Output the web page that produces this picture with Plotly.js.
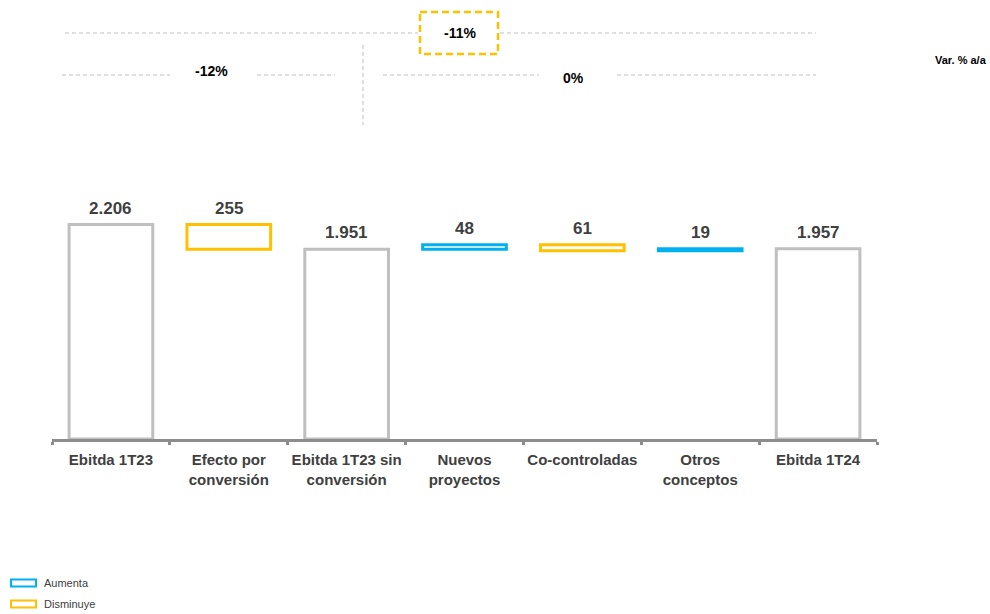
<!DOCTYPE html>
<html>
<head>
<meta charset="utf-8">
<script src="https://cdn.plot.ly/plotly-3.0.1.min.js"></script>
<style>html,body{margin:0;padding:0;background:#fff;}#chart{width:990px;height:614px;}</style>
</head>
<body>
<div id="chart"></div>
<script>
// ---- data ----
var categories = ["Ebitda 1T23", "Efecto por<br>conversión", "Ebitda 1T23 sin<br>conversión", "Nuevos<br>proyectos", "Co-controladas", "Otros<br>conceptos", "Ebitda 1T24"];
var measures = ["absolute", "relative", "total", "relative", "relative", "relative", "total"];
var values = [2206, -255, 1951, 48, -61, 19, 1957];
var varLabels = ["-12%", "-11%", "0%"];
var varTitle = "Var. % a/a";
var legendLabels = ["Aumenta", "Disminuye"];

var BLUE = "#00B0F0", YELLOW = "#FFC000", GRAY = "#BFBFBF", AXIS = "#8C8C8C", TXT = "#404040";
var FONT = "Liberation Sans, Arial, sans-serif";

// layout geometry (pixels)
var W = 990, H = 614, ML = 52, MR = 113, MT = 0, MB = 175;
var PW = W - ML - MR, PH = H - MT - MB;
function px(x) { return (x - ML) / PW; }
function py(y) { return (H - MB - y) / PH; }

// running totals for labels
var tops = [], run = 0;
for (var i = 0; i < values.length; i++) {
  var start, end;
  if (measures[i] === "absolute") { start = 0; end = values[i]; run = end; }
  else if (measures[i] === "total") { start = 0; end = run; }
  else { start = run; end = run + values[i]; run = end; }
  tops.push(Math.max(start, end));
}
function fmt(n) { return String(Math.abs(n)).replace(/\B(?=(\d{3})+(?!\d))/g, "."); }

var annotations = [];
for (var j = 0; j < categories.length; j++) {
  annotations.push({
    x: categories[j], y: tops[j], xref: "x", yref: "y",
    text: fmt(measures[j] === "total" ? tops[j] : values[j]),
    showarrow: false, yanchor: "bottom", yshift: 5,
    font: {family: FONT, size: 17, color: TXT, weight: "bold"}
  });
}
// top variation labels
var varPos = [[211, 71], [460, 33], [573, 78]];
for (var k = 0; k < varLabels.length; k++) {
  annotations.push({
    x: px(varPos[k][0]), y: py(varPos[k][1]), xref: "paper", yref: "paper",
    text: varLabels[k], showarrow: false, xanchor: "center", yanchor: "middle",
    font: {family: FONT, size: 14, color: "#000", weight: "bold"}
  });
}
annotations.push({
  x: px(989), y: py(60), xref: "paper", yref: "paper", text: varTitle,
  showarrow: false, xanchor: "right", yanchor: "middle",
  font: {family: FONT, size: 11, color: "#000", weight: "bold"}
});
// legend texts
var legColors = [BLUE, YELLOW], legY = [583, 604];
for (var m = 0; m < legendLabels.length; m++) {
  annotations.push({
    x: px(42), y: py(legY[m]), xref: "paper", yref: "paper", text: legendLabels[m],
    showarrow: false, xanchor: "left", yanchor: "middle",
    font: {family: FONT, size: 11, color: TXT}
  });
}

var dashLine = {color: "#C0C0C0", width: 1, dash: "4px,3px"};
function hseg(x0, x1, y) {
  return {type: "line", xref: "paper", yref: "paper", x0: px(x0), x1: px(x1), y0: py(y), y1: py(y), line: dashLine};
}
var shapes = [
  hseg(65, 418, 33), hseg(500, 816, 33),
  hseg(62, 170, 75), hseg(257, 335, 75), hseg(383, 539, 75), hseg(617, 816, 75),
  {type: "line", xref: "paper", yref: "paper", x0: px(363), x1: px(363), y0: py(45), y1: py(125), line: dashLine},
  {type: "rect", xref: "paper", yref: "paper", x0: px(420), x1: px(498), y0: py(12), y1: py(54),
   line: {color: YELLOW, width: 2.5, dash: "7px,4px"}}
];
for (var n = 0; n < legendLabels.length; n++) {
  shapes.push({type: "rect", xref: "paper", yref: "paper", x0: px(11), x1: px(36), y0: py(legY[n] - 3.5), y1: py(legY[n] + 3.5),
    line: {color: legColors[n], width: 2}, fillcolor: "#fff"});
}

var trace = {
  type: "waterfall",
  x: categories, y: values, measure: measures,
  width: 0.71,
  connector: {visible: false},
  increasing: {marker: {color: "#fff", line: {color: BLUE, width: 3}}},
  decreasing: {marker: {color: "#fff", line: {color: YELLOW, width: 3}}},
  totals: {marker: {color: "#fff", line: {color: GRAY, width: 3}}},
  textinfo: "none", hoverinfo: "skip", cliponaxis: false, showlegend: false
};

var layout = {
  width: W, height: H,
  margin: {l: ML, r: MR, t: MT, b: MB, pad: 0},
  paper_bgcolor: "#fff", plot_bgcolor: "#fff",
  font: {family: FONT, color: TXT},
  showlegend: false,
  xaxis: {
    type: "category", range: [-0.5, categories.length - 0.5],
    showline: true, linecolor: AXIS, linewidth: 3,
    ticks: "outside", tickson: "boundaries", ticklen: 3, tickwidth: 3, tickcolor: AXIS,
    tickangle: 0, automargin: false, ticklabelstandoff: 5,
    showgrid: false, zeroline: false, fixedrange: true,
    tickfont: {family: FONT, size: 15, color: TXT, weight: "bold"}
  },
  yaxis: {visible: false, range: [0, PH / 0.0972], showgrid: false, zeroline: false, fixedrange: true},
  annotations: annotations,
  shapes: shapes
};

Plotly.newPlot("chart", [trace], layout, {displayModeBar: false, staticPlot: true});
</script>
</body>
</html>
